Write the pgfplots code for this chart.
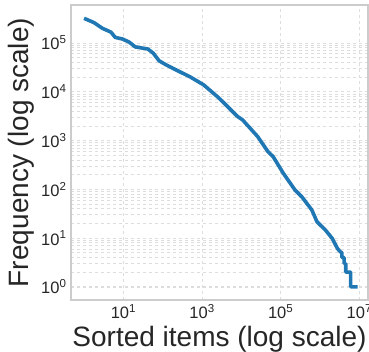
\documentclass[border=0pt]{standalone}
\usepackage{pgfplots}
\pgfplotsset{compat=1.18}
\usepackage{fontspec}
\setmainfont{Liberation Sans}
\definecolor{tabblue}{HTML}{1F77B4}
\definecolor{txt}{HTML}{262626}
\definecolor{spine}{HTML}{CCCCCC}
\definecolor{gridc}{HTML}{DDDDDD}
\begin{document}
\begin{tikzpicture}
\useasboundingbox (-71pt,-52pt) rectangle (298pt,300pt);
\begin{axis}[
  at={(0pt,0pt)}, anchor=south west,
  scale only axis,
  width=297pt, height=295pt,
  xmode=log, ymode=log,
  xmin=0.464, xmax=1.66e7,
  ymin=0.537, ymax=6.0e5,
  xtick={10,1000,100000,10000000},
  xticklabels={10\textsuperscript{1},10\textsuperscript{3},10\textsuperscript{5},10\textsuperscript{7}},
  ytick={1,10,100,1000,10000,100000},
  yticklabels={10\textsuperscript{0},10\textsuperscript{1},10\textsuperscript{2},10\textsuperscript{3},10\textsuperscript{4},10\textsuperscript{5}},
  minor xtick={},
  xmajorgrids=true, ymajorgrids=true, yminorgrids=true,
  major grid style={gridc, dashed, line width=0.8pt},
  minor grid style={gridc, dashed, line width=0.6pt},
  axis line style={spine, line width=1.2pt},
  major tick length=0pt, minor tick length=0pt,
  tick label style={font=\fontsize{16.5}{16.5}\selectfont, text=txt},
  xticklabel style={yshift=-1pt},
  yticklabel style={xshift=-1pt},
  label style={font=\fontsize{28}{28}\selectfont, text=txt},
  xlabel={Sorted items (log scale)},
  ylabel={Frequency (log scale)},
]
\addplot[tabblue, line width=3.6pt, line join=round] coordinates {
(1,3.2e5) (1.8,2.6e5) (2.9,2.0e5) (4.8,1.67e5) (6.2,1.3e5) (9.6,1.2e5)
(14,1.04e5) (20,8.3e4) (42,7.5e4) (57,6.2e4) (81,4.3e4) (126,3.5e4)
(228,2.75e4) (505,2.0e4) (1100,1.38e4) (2700,7.4e3) (8000,3.1e3)
(10700,2.65e3) (26000,1.2e3) (47500,590) (64000,468) (116000,214)
(230000,97) (345000,70) (620000,37.6) (835000,21.6) (1.37e6,14.6)
(2.05e6,9.8) (2.77e6,6.1) (3.3e6,5.2) (3.6e6,5) (3.6e6,4) (4.1e6,4)
(4.1e6,3) (4.5e6,3) (4.5e6,2) (6.0e6,2) (6.0e6,1) (9.0e6,1)
};
\end{axis}
\end{tikzpicture}
\end{document}
